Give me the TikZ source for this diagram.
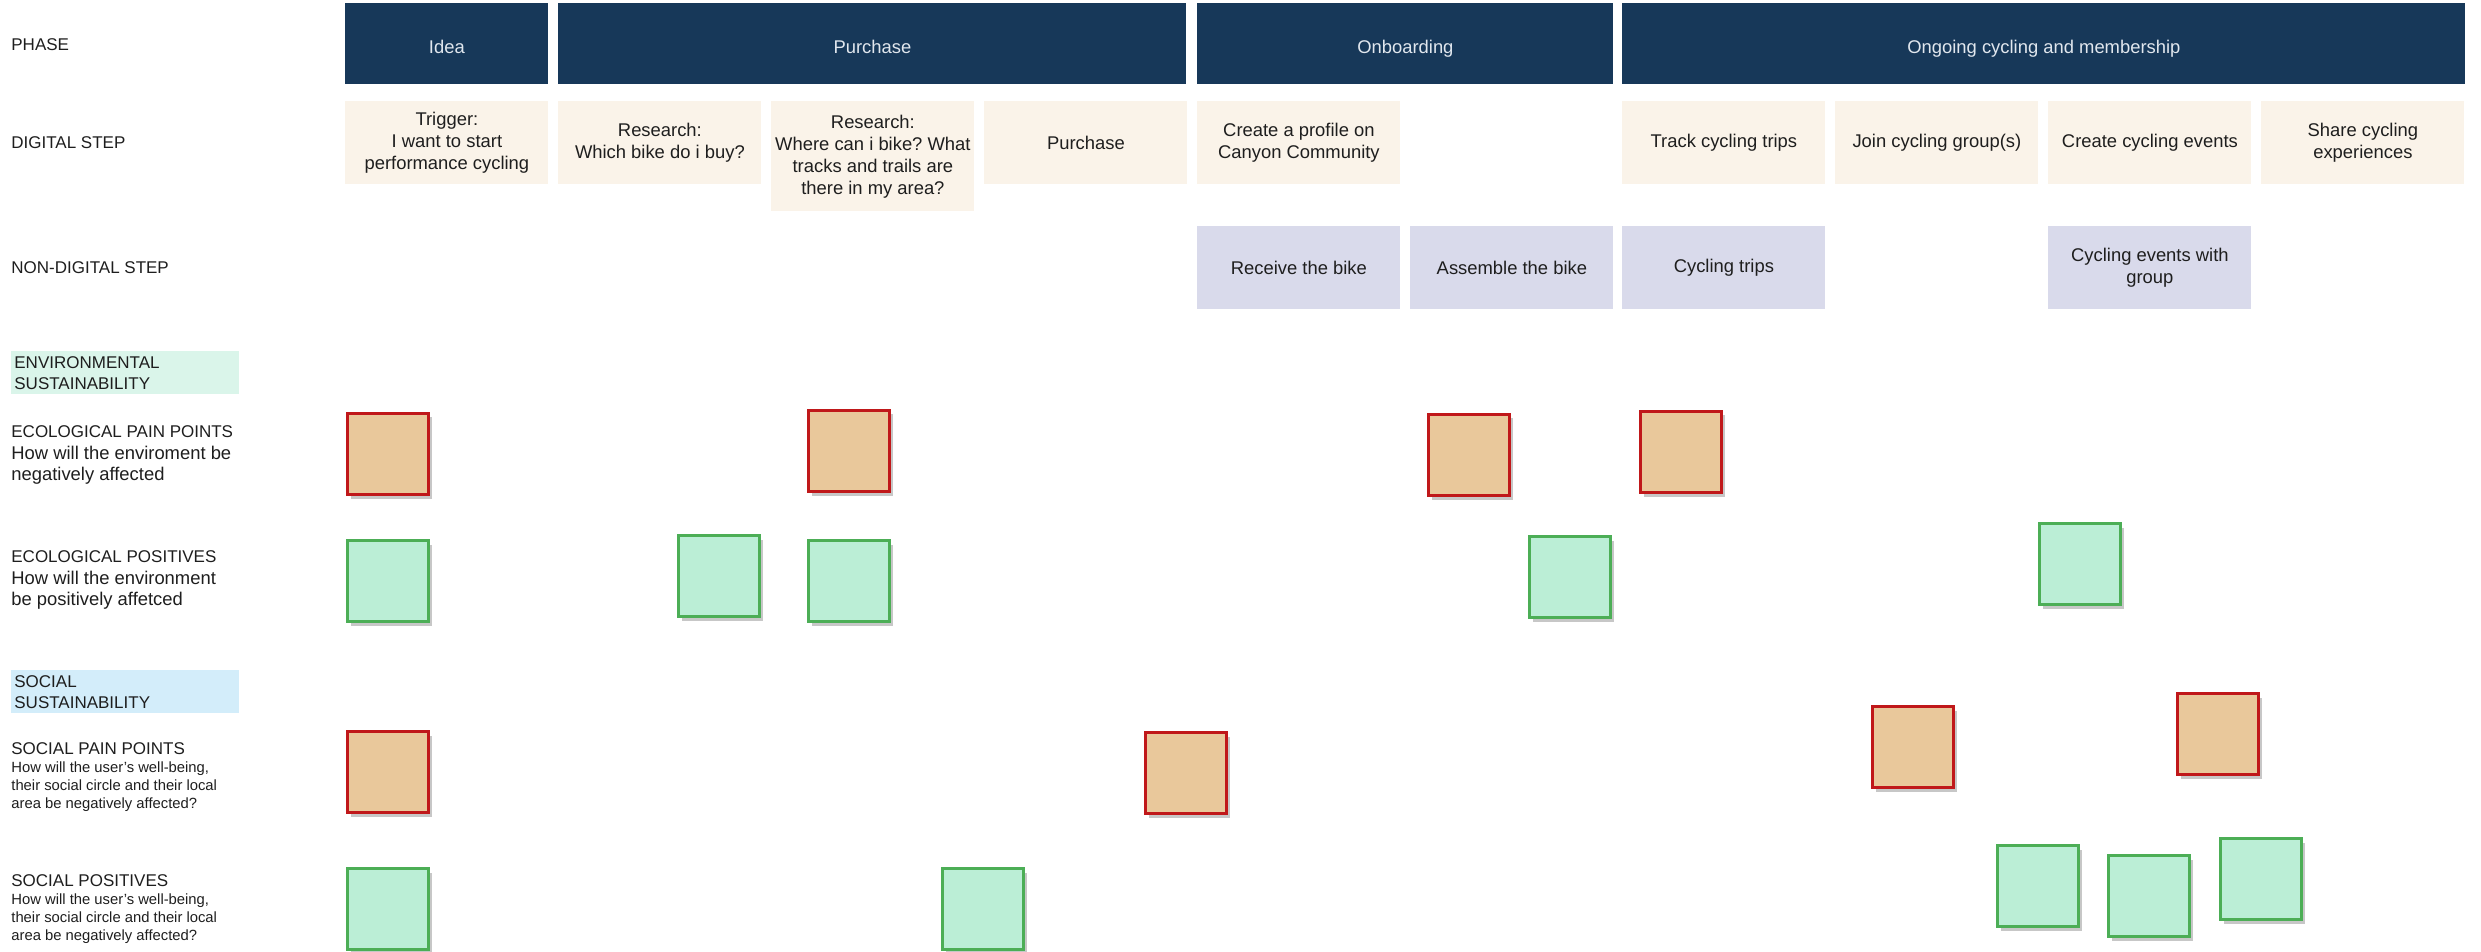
\documentclass[tikz,border=0pt]{standalone}
\usepackage{fontspec}
\setmainfont{Liberation Sans}
\usetikzlibrary{shadows}
\frenchspacing
\definecolor{phasecol}{RGB}{23,56,89}
\definecolor{phasetext}{RGB}{225,231,238}
\definecolor{digcol}{RGB}{250,243,233}
\definecolor{nondigcol}{RGB}{217,218,235}
\definecolor{boxtext}{RGB}{30,30,30}
\definecolor{labeltext}{RGB}{30,30,30}
\definecolor{envcol}{RGB}{218,245,234}
\definecolor{soccol}{RGB}{211,237,250}
\definecolor{painfill}{RGB}{233,200,155}
\definecolor{painline}{RGB}{192,24,26}
\definecolor{posfill}{RGB}{187,238,214}
\definecolor{posline}{RGB}{76,174,86}
\newcommand{\phasetxt}[1]{\raisebox{-1.5pt}[\height][0pt]{#1}}
\begin{document}
\frenchspacing
\begin{tikzpicture}[x=0.5pt,y=-0.5pt,
  phasebox/.style={fill=phasecol, text=phasetext, minimum height=40.5pt, anchor=north west, inner sep=0pt, font=\fontsize{9.2}{11}\selectfont},
  digbox/.style={fill=digcol, text=boxtext, minimum width=101.5pt, minimum height=41.5pt, anchor=north west, inner sep=0pt, align=center, font=\fontsize{9.2}{11}\selectfont},
  nondigbox/.style={fill=nondigcol, text=boxtext, minimum width=101.5pt, minimum height=41.5pt, anchor=north west, inner sep=0pt, align=center, font=\fontsize{9.2}{11}\selectfont},
  rowlabel/.style={anchor=west, inner sep=0pt, text=labeltext, font=\fontsize{8.5}{10.5}\selectfont},
  rowdesc/.style={anchor=north west, inner sep=0pt, align=left, text=labeltext, font=\fontsize{9.2}{10.5}\selectfont},
  socdesc/.style={anchor=north west, inner sep=0pt, align=left, text=labeltext, font=\fontsize{7.4}{9}\selectfont},
  groupbox/.style={anchor=north west, minimum height=21.5pt, inner xsep=1.5pt, inner ysep=0pt, text width=111pt, align=left, text=labeltext, font=\fontsize{8.5}{10.5}\selectfont},
  sqbox/.style={anchor=north west, minimum size=40.5pt, line width=1.5pt, inner sep=0pt,
    drop shadow={shadow xshift=1.5pt, shadow yshift=-2pt, opacity=0.22, fill=black}},
  painbox/.style={sqbox, fill=painfill, draw=painline},
  posbox/.style={sqbox, fill=posfill, draw=posline}
]
\useasboundingbox (0,0) rectangle (2481,952);

% Row labels
\node[rowlabel] (lphase) at (11,45) {PHASE};
\node[rowlabel] (ldig) at (11,143) {DIGITAL STEP};
\node[rowlabel] (lnondig) at (11,268) {NON-DIGITAL STEP};

% Phase row
\node[phasebox, minimum width=101.5pt] (pidea) at (345,3) {\phasetxt{Idea}};
\node[phasebox, minimum width=314pt] (ppurch) at (558,3) {\phasetxt{Purchase}};
\node[phasebox, minimum width=208pt] (ponb) at (1197,3) {\phasetxt{Onboarding}};
\node[phasebox, minimum width=421.5pt] (pong) at (1622,3) {\phasetxt{Ongoing cycling and membership}};

% Digital steps
\node[digbox] (d1) at (345,101) {Trigger:\\I want to start\\performance cycling};
\node[digbox] (d2) at (558,101) {Research:\\Which bike do i buy?};
\node[digbox, minimum height=55pt] (d3) at (771,101) {Research:\\Where can i bike? What\\tracks and trails are\\there in my area?};
\node[digbox] (d4) at (984,101) {Purchase};
\node[digbox] (d5) at (1197,101) {Create a profile on\\Canyon Community};
\node[digbox] (d6) at (1622,101) {Track cycling trips};
\node[digbox] (d7) at (1835,101) {Join cycling group(s)};
\node[digbox] (d8) at (2048,101) {Create cycling events};
\node[digbox] (d9) at (2261,101) {Share cycling\\experiences};

% Non-digital steps
\node[nondigbox] (n1) at (1197,226) {Receive the bike};
\node[nondigbox] (n2) at (1410,226) {Assemble the bike};
\node[nondigbox] (n3) at (1622,226) {Cycling trips};
\node[nondigbox] (n4) at (2048,226) {Cycling events with\\group};

% Environmental sustainability
\node[groupbox, fill=envcol] (genv) at (11,351) {ENVIRONMENTAL\\SUSTAINABILITY};
\node[rowlabel] (leco) at (11,432) {ECOLOGICAL PAIN POINTS};
\node[rowdesc] (lecod) at (11,446) {How will the enviroment be\\negatively affected};
\node[rowlabel] (lecopos) at (11,557) {ECOLOGICAL POSITIVES};
\node[rowdesc] (lecoposd) at (11,571) {How will the environment\\be positively affetced};

% Social sustainability
\node[groupbox, fill=soccol] (gsoc) at (11,670) {SOCIAL\\SUSTAINABILITY};
\node[rowlabel] (lsoc) at (11,749) {SOCIAL PAIN POINTS};
\node[socdesc] (lsocd) at (11,761) {How will the user's well-being,\\their social circle and their local\\area be negatively affected?};
\node[rowlabel] (lsocpos) at (11,881) {SOCIAL POSITIVES};
\node[socdesc] (lsocposd) at (11,893) {How will the user's well-being,\\their social circle and their local\\area be negatively affected?};

% Ecological pain points
\node[painbox] (ep1) at (346,412) {};
\node[painbox] (ep2) at (807,409) {};
\node[painbox] (ep3) at (1427,413) {};
\node[painbox] (ep4) at (1639,410) {};

% Ecological positives
\node[posbox] (eq1) at (346,539) {};
\node[posbox] (eq2) at (677,534) {};
\node[posbox] (eq3) at (807,539) {};
\node[posbox] (eq4) at (1528,535) {};
\node[posbox] (eq5) at (2038,522) {};

% Social pain points
\node[painbox] (sp1) at (346,730) {};
\node[painbox] (sp2) at (1144,731) {};
\node[painbox] (sp3) at (1871,705) {};
\node[painbox] (sp4) at (2176,692) {};

% Social positives
\node[posbox] (sq1) at (346,867) {};
\node[posbox] (sq2) at (941,867) {};
\node[posbox] (sq3) at (1996,844) {};
\node[posbox] (sq4) at (2107,854) {};
\node[posbox] (sq5) at (2219,837) {};
\end{tikzpicture}
\end{document}
